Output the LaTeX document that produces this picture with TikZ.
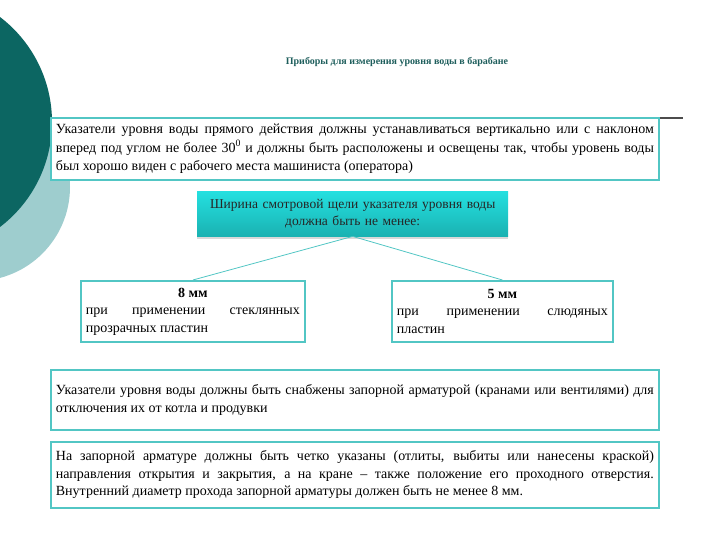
\documentclass[tikz,border=0pt]{standalone}
\usepackage{fontspec}
\setmainfont{Liberation Serif}
\usetikzlibrary{shadows}

\definecolor{darkteal}{HTML}{0C6662}
\definecolor{paleteal}{HTML}{9ECDCE}
\definecolor{boxline}{HTML}{52C6C4}
\definecolor{topcyan}{HTML}{24E0E0}
\definecolor{botcyan}{HTML}{1AB2B2}
\definecolor{titleteal}{HTML}{1E5E5C}

\tikzset{
	textbox/.style={draw=boxline, line width=1.8pt, fill=white, anchor=north west,
		inner sep=5pt, align=justify, font=\fontsize{14}{17.5}\selectfont},
	headbox/.style={fill=boxline, top color=topcyan, bottom color=botcyan,
		drop shadow={opacity=0.3, shadow xshift=0pt, shadow yshift=-2.5pt},
		anchor=north west, inner sep=4pt, align=center,
		font=\fontsize{13.5}{17}\selectfont, text=black!85},
	link/.style={draw=boxline, line width=0.8pt}
}

\begin{document}
\begin{tikzpicture}[x=1pt, y=-1pt]

	% ---- frame

	\useasboundingbox (0,0) rectangle (720,540);

	% ---- background circles

	\fill[paleteal] (-24,187) circle (94);
	\fill[darkteal] (-80,122) circle (132);

	% ---- title and rule

	\node[font=\fontsize{10}{12}\selectfont\bfseries, text=titleteal] (title) at (397,62)
		{Приборы для измерения уровня воды в барабане};
	\draw[gray!60!black, line width=1.3pt] (50,118) -- (683,118);

	% ---- boxes

	\node[textbox, minimum width=608, minimum height=62, text width=598,
		font=\fontsize{14}{18.5}\selectfont] (top) at (50,117)
		{Указатели уровня воды прямого действия должны устанавливаться вертикально или с наклоном\linebreak
		вперед под углом не более 30\textsuperscript{0} и должны быть расположены и освещены так, чтобы уровень воды\linebreak
		был хорошо виден с рабочего места машиниста (оператора)};

	\node[headbox, minimum width=311, minimum height=45, text width=303] (width) at (197,191)
		{Ширина смотровой щели указателя уровня воды\\ должна быть не менее:};

	\node[textbox, minimum width=224, minimum height=61, text width=214] (glass) at (80,280)
		{\centerline{\textbf{8 мм}}
		при применении стеклянных\linebreak прозрачных пластин};

	\node[textbox, minimum width=221, minimum height=61, text width=211] (mica) at (391,280)
		{\centerline{\textbf{5 мм}}
		при применении слюдяных\linebreak пластин};

	\node[textbox, minimum width=608, minimum height=60, text width=598] (valves) at (50,369)
		{Указатели уровня воды должны быть снабжены запорной арматурой (кранами или вентилями) для\linebreak
		отключения их от котла и продувки};

	\node[textbox, minimum width=608, minimum height=66, text width=598] (marks) at (50,441)
		{На запорной арматуре должны быть четко указаны (отлиты, выбиты или нанесены краской)\linebreak
		направления открытия и закрытия, а на кране -- также положение его проходного отверстия.\linebreak
		Внутренний диаметр прохода запорной арматуры должен быть не менее 8 мм.};

	% ---- connectors

	\draw[link] (width.south) -- (glass.north);
	\draw[link] (width.south) -- (mica.north);

\end{tikzpicture}
\end{document}
